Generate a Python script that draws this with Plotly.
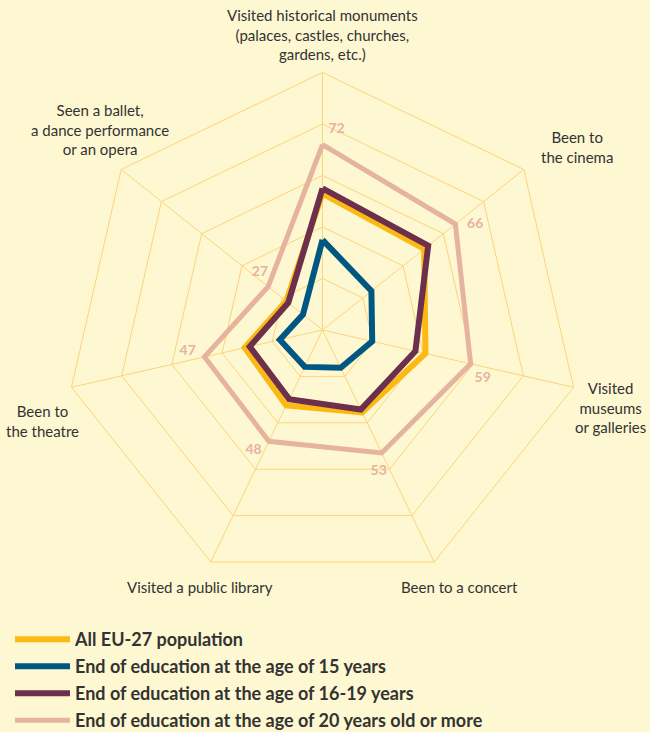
import plotly.graph_objects as go

# Cultural activities in the last 12 months (%), by age at end of education
categories = [
    "Visited historical monuments",
    "Been to the cinema",
    "Visited museums or galleries",
    "Been to a concert",
    "Visited a public library",
    "Been to the theatre",
    "Seen a ballet, a dance performance or an opera",
]
all_eu27 = [53, 50.5, 41, 35.5, 32.5, 31, 18]
edu_15 = [35, 24.3, 19.8, 16.3, 15.9, 17, 9.7]
edu_16_19 = [55, 52.5, 37, 34.3, 29.8, 29, 17]
edu_20_plus = [72, 66, 59, 53, 48, 47, 27]

series_names = [
    "All EU-27 population",
    "End of education at the age of 15 years",
    "End of education at the age of 16-19 years",
    "End of education at the age of 20 years old or more",
]

BG = "#FEF8D2"
GRID = "#FCD47A"
COLORS = ["#FDB913", "#005882", "#6C2F4C", "#E6B39E"]
WIDTHS = [6, 6, 6, 5]
TEXT = "#333333"
FONT = "Lato"

n = len(categories)


def closed(vals):
    return list(vals) + [vals[0]]


fig = go.Figure()
series = [all_eu27, edu_15, edu_16_19, edu_20_plus]
for i, (name, vals) in enumerate(zip(series_names, series)):
    fig.add_trace(go.Scatterpolar(
        r=closed(vals), theta=closed(categories),
        mode="lines", name=name, legendgroup=f"g{i}",
        line=dict(color=COLORS[i], width=WIDTHS[i]),
        hoverinfo="skip", subplot="polar",
    ))

# value labels next to the outer series, on an overlaid numeric polar axis
angles = [i * 360 / n for i in range(n)]
fig.add_trace(go.Scatterpolar(
    r=[v + 6 for v in edu_20_plus], theta=[a + 4 for a in angles],
    thetaunit="degrees", mode="text", text=[str(v) for v in edu_20_plus],
    textfont=dict(family=FONT, size=14, color=COLORS[3], weight="bold"),
    showlegend=False, hoverinfo="skip", subplot="polar2",
))

cx, cy, R = 322.5, 330, 257.5
W, H = 650, 732
domain = dict(x=[(cx - R) / W, (cx + R) / W],
              y=[1 - (cy + R) / H, 1 - (cy - R) / H])
fig.update_layout(
    width=W, height=H,
    margin=dict(l=0, r=0, t=0, b=0, autoexpand=False),
    paper_bgcolor=BG, plot_bgcolor=BG,
    font=dict(family=FONT, color=TEXT, size=15),
    polar=dict(
        bgcolor=BG,
        gridshape="linear",
        domain=domain,
        radialaxis=dict(range=[0, 100], dtick=20, showticklabels=False,
                        ticks="", showline=False, gridcolor=GRID, gridwidth=1),
        angularaxis=dict(type="category", direction="clockwise", rotation=90,
                         showticklabels=False, ticks="",
                         showline=True, linecolor=GRID, linewidth=1,
                         gridcolor=GRID, gridwidth=1),
    ),
    polar2=dict(
        bgcolor="rgba(0,0,0,0)",
        domain=domain,
        radialaxis=dict(range=[0, 100], visible=False),
        angularaxis=dict(direction="clockwise", rotation=90, visible=False),
    ),
    showlegend=True,
    legend=dict(
        x=10 / W, y=1 - 621 / H, xanchor="left", yanchor="top",
        bgcolor="rgba(0,0,0,0)", traceorder="grouped", tracegroupgap=0.6,
        font=dict(family=FONT, size=18, color=TEXT, weight="bold"),
        itemwidth=55,
    ),
)

# axis category labels
label_specs = [
    ("Visited historical monuments<br>(palaces, castles, churches,<br>gardens, etc.)", 322, 34),
    ("Been to<br>the cinema", 577, 147),
    ("Visited<br>museums<br>or galleries", 610, 408),
    ("Been to a concert", 459, 587),
    ("Visited a public library", 200, 587),
    ("Been to<br>the theatre", 42, 421),
    ("Seen a ballet,<br>a dance performance<br>or an opera", 100, 129),
]
for txt, x, y in label_specs:
    fig.add_annotation(
        text=txt, x=x / W, y=1 - y / H, xref="paper", yref="paper",
        xanchor="center", yanchor="middle", showarrow=False, align="center",
        font=dict(family=FONT, size=15, color=TEXT),
    )

fig.write_html("out.html")
